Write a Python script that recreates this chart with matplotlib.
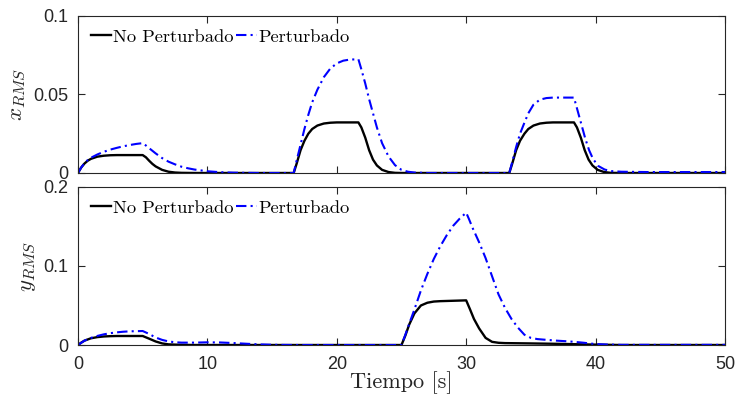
import matplotlib
matplotlib.use("Agg")
import matplotlib.pyplot as plt

# ---------------- data ----------------
# top panel: x_RMS
t_x_np = [0, 0.25, 0.5, 0.75, 1, 1.5, 2, 2.5, 3, 4, 5,
          5.25, 5.5, 5.75, 6, 6.5, 7, 7.5, 8, 9,
          16.67, 16.9, 17.2, 17.5, 17.8, 18.1, 18.5, 19, 19.5, 20, 21.67,
          21.9, 22.2, 22.5, 22.8, 23.1, 23.5, 24, 24.5, 25,
          33.33, 33.56, 33.86, 34.16, 34.5, 34.8, 35.2, 35.7, 36.2, 36.7, 38.33,
          38.56, 38.86, 39.16, 39.46, 39.76, 40.16, 40.66, 41.16, 42, 50]
x_np = [0, 0.0035, 0.006, 0.0078, 0.009, 0.0104, 0.011, 0.0113, 0.0114, 0.0114, 0.0114,
        0.010, 0.0078, 0.0058, 0.0042, 0.002, 0.0008, 0.0003, 0.0001, 0,
        0, 0.006, 0.0145, 0.0205, 0.025, 0.028, 0.0302, 0.0315, 0.032, 0.0322, 0.0322,
        0.029, 0.0225, 0.0145, 0.0085, 0.0048, 0.002, 0.0006, 0.0001, 0,
        0, 0.006, 0.0145, 0.0205, 0.025, 0.028, 0.0302, 0.0315, 0.032, 0.0322, 0.0322,
        0.029, 0.0225, 0.0145, 0.0085, 0.0048, 0.002, 0.0006, 0.0001, 0, 0]

t_x_p = [0, 0.25, 0.5, 0.75, 1, 1.5, 2, 2.5, 3, 3.5, 4, 4.5, 5,
         5.25, 5.5, 6, 6.5, 7, 7.5, 8, 8.5, 9, 10, 11, 12, 13, 14,
         16.67, 16.9, 17.2, 17.5, 17.8, 18.1, 18.5, 19, 19.5, 20, 20.5, 21, 21.67,
         21.9, 22.2, 22.5, 22.8, 23.1, 23.5, 24, 24.5, 25, 25.5, 26, 27,
         33.33, 33.56, 33.86, 34.16, 34.5, 34.8, 35.2, 35.7, 36.2, 36.7, 38.33,
         38.6, 38.9, 39.2, 39.5, 39.8, 40.2, 40.7, 41.2, 42, 44, 50]
x_p = [0, 0.0035, 0.0062, 0.0082, 0.0097, 0.0118, 0.0135, 0.0149, 0.016, 0.017, 0.0178, 0.0185, 0.019,
       0.0175, 0.0158, 0.0125, 0.0095, 0.0072, 0.0055, 0.004, 0.003, 0.0022, 0.0011, 0.0005, 0.0002, 0.0001, 0,
       0, 0.008, 0.018, 0.028, 0.037, 0.045, 0.053, 0.061, 0.0665, 0.0698, 0.0715, 0.0722, 0.0724,
       0.066, 0.057, 0.047, 0.038, 0.029, 0.019, 0.0105, 0.005, 0.002, 0.0008, 0.0003, 0,
       0, 0.007, 0.0165, 0.025, 0.032, 0.038, 0.0435, 0.0467, 0.0477, 0.048, 0.048,
       0.040, 0.031, 0.022, 0.0145, 0.009, 0.0045, 0.0022, 0.0012, 0.0008, 0.0006, 0.0006]

# bottom panel: y_RMS
t_y_np = [0, 0.25, 0.5, 1, 1.5, 2, 2.5, 3, 5,
          5.5, 6, 6.5, 7, 8, 9,
          25, 25.3, 25.6, 26, 26.5, 27, 27.5, 28, 29, 30,
          30.3, 30.6, 31, 31.5, 32, 32.5, 33, 35, 37, 40, 42, 50]
y_np = [0, 0.003, 0.0055, 0.0085, 0.010, 0.0108, 0.0112, 0.0114, 0.0114,
        0.008, 0.0045, 0.002, 0.0008, 0.0002, 0,
        0, 0.012, 0.026, 0.040, 0.050, 0.0535, 0.055, 0.0555, 0.056, 0.0565,
        0.045, 0.033, 0.021, 0.009, 0.004, 0.0028, 0.0024, 0.002, 0.0015, 0.0005, 0, 0]

t_y_p = [0, 0.5, 1, 1.5, 2, 2.5, 3, 3.5, 4, 5,
         5.5, 6, 6.5, 7, 7.5, 8, 9, 10, 11, 12, 13, 14, 15, 16, 17,
         25, 25.3, 25.6, 26, 26.5, 27, 27.5, 28, 28.5, 29, 29.5, 30,
         30.2, 30.5, 31, 31.5, 32, 32.5, 33, 33.5, 34, 34.5, 35, 35.5, 36, 37, 38, 39, 40, 41, 42, 50]
y_p = [0, 0.0055, 0.009, 0.0115, 0.0135, 0.015, 0.016, 0.0168, 0.0173, 0.0177,
       0.014, 0.0095, 0.0065, 0.0045, 0.0035, 0.003, 0.003, 0.0034, 0.0032, 0.0025, 0.0016, 0.0008, 0.0003, 0.0001, 0,
       0, 0.013, 0.027, 0.045, 0.069, 0.090, 0.109, 0.125, 0.139, 0.151, 0.160, 0.1675,
       0.160, 0.148, 0.130, 0.110, 0.087, 0.064, 0.047, 0.033, 0.022, 0.013, 0.009, 0.0075, 0.0068,
       0.0055, 0.0045, 0.003, 0.0012, 0.0005, 0.0002, 0.0002]

labels = ["No Perturbado", "Perturbado"]
x_ticks = [0, 10, 20, 30, 40, 50]
top_yticks = [0, 0.05, 0.1]
top_yticklabels = ["0", "0.05", "0.1"]
bot_yticks = [0, 0.1, 0.2]
bot_yticklabels = ["0", "0.1", "0.2"]

# ---------------- plotting ----------------
plt.rcParams['mathtext.fontset'] = 'cm'
plt.rcParams['font.family'] = ['Liberation Sans', 'DejaVu Sans']
axcol = (0.15, 0.15, 0.15)
dashdot = (0, (5, 2, 1, 2))

fig = plt.figure(figsize=(7.37, 4.08), dpi=100)
ax1 = fig.add_axes([0.1058, 0.576, 0.8779, 0.3850])
ax2 = fig.add_axes([0.1058, 0.1544, 0.8779, 0.3873])

def style(ax):
    for s in ax.spines.values():
        s.set_color(axcol)
        s.set_linewidth(0.8)
    ax.tick_params(direction='in', top=True, right=True, length=5, width=0.8,
                   color=axcol, labelcolor=axcol, labelsize=13)
    ax.tick_params(axis='y', pad=7)
    ax.tick_params(axis='x', pad=8)
    ax.set_xlim(0, 50)
    ax.set_xticks(x_ticks)

ax1.plot(t_x_np, x_np, color='black', lw=1.7, label=labels[0])
ax1.plot(t_x_p, x_p, color=(0, 0, 1), lw=1.5, ls=dashdot, label=labels[1])
style(ax1)
ax1.set_ylim(0, 0.1)
ax1.set_yticks(top_yticks)
ax1.set_yticklabels(top_yticklabels)
ax1.set_xticklabels([])
ax1.set_ylabel(r'$x_{RMS}$', fontsize=16.5, color=axcol, labelpad=4)

ax2.plot(t_y_np, y_np, color='black', lw=1.7, label=labels[0])
ax2.plot(t_y_p, y_p, color=(0, 0, 1), lw=1.5, ls=dashdot, label=labels[1])
style(ax2)
ax2.set_ylim(0, 0.2)
ax2.set_yticks(bot_yticks)
ax2.set_yticklabels(bot_yticklabels)
ax2.set_ylabel(r'$y_{RMS}$', fontsize=16.5, color=axcol, labelpad=4)
ax2.set_xlabel('Tiempo [s]', fontsize=16, family='cmr10', color=axcol, labelpad=-1)

for ax in (ax1, ax2):
    ax.legend(loc='upper left', ncol=2, frameon=False, handlelength=1.1,
              handletextpad=0.1, columnspacing=0.15, borderaxespad=0.4,
              borderpad=0.3, prop={'family': 'cmr10', 'size': 13.3})

fig.savefig('out.png', dpi=100)
